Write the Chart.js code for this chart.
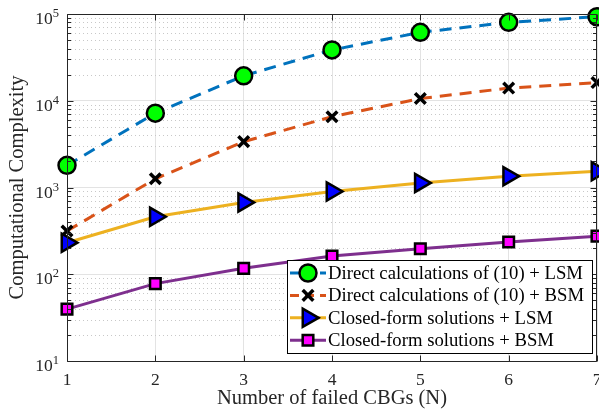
<!DOCTYPE html>
<html>
<head>
<meta charset="utf-8">
<script src="https://cdn.jsdelivr.net/npm/chart.js@4/dist/chart.umd.min.js"></script>
<style>
html,body{margin:0;padding:0;background:#fff;}
#wrap{width:599px;height:412px;position:relative;}
</style>
</head>
<body>
<div id="wrap"><canvas id="c" width="599" height="412"></canvas></div>
<script>
const categories = [1, 2, 3, 4, 5, 6, 7];
const directLSM = [1800, 7200, 19400, 38500, 61500, 80200, 93000];
const directBSM = [315, 1260, 3380, 6550, 10600, 14000, 16200];
const closedLSM = [231, 460, 673, 900, 1130, 1350, 1540];
const closedBSM = [39.6, 78, 117, 162, 197, 235, 275];
const seriesNames = [
  'Direct calculations of (10) + LSM',
  'Direct calculations of (10) + BSM',
  'Closed-form solutions + LSM',
  'Closed-form solutions + BSM'
];
const yExponents = [1, 2, 3, 4, 5];
const xTickLabels = ['1', '2', '3', '4', '5', '6', '7'];

const FONT = '"Liberation Serif", "Times New Roman", serif';
const AX = '#262626';

function pts(arr) { return categories.map((c, i) => ({x: c, y: arr[i]})); }

const datasets = [
  {label: seriesNames[0], data: pts(directLSM), borderColor: '#0072BD', borderDash: [12, 8], borderWidth: 3,
   pointStyle: 'circle', pointRadius: 8.5, pointBackgroundColor: '#00FF00', pointBorderColor: '#000', pointBorderWidth: 2.5, order: 4},
  {label: seriesNames[1], data: pts(directBSM), borderColor: '#D95319', borderDash: [12, 8], borderWidth: 3,
   pointStyle: 'crossRot', pointRadius: 7.5, pointBackgroundColor: '#000', pointBorderColor: '#000', pointBorderWidth: 3.5, order: 3},
  {label: seriesNames[2], data: pts(closedLSM), borderColor: '#EDB120', borderWidth: 3,
   pointStyle: 'triangle', pointRotation: 90, pointRadius: 10.5, pointBackgroundColor: '#0000FF', pointBorderColor: '#000', pointBorderWidth: 2.5, order: 2},
  {label: seriesNames[3], data: pts(closedBSM), borderColor: '#7E2F8E', borderWidth: 3,
   pointStyle: 'rect', pointRadius: 7.5, pointBackgroundColor: '#FF00FF', pointBorderColor: '#000', pointBorderWidth: 2.5, order: 1}
];
datasets.forEach(d => { d.fill = false; d.tension = 0; d.clip = false; d.pointHoverRadius = d.pointRadius; });

const decorPlugin = {
  id: 'decor',
  beforeDatasetsDraw(chart) {
    const {ctx, chartArea: a, scales: {x, y}} = chart;
    ctx.save();
    ctx.strokeStyle = '#c8c8c8';
    ctx.lineWidth = 1;
    ctx.setLineDash([1, 3]);
    for (let e = yExponents[0]; e < yExponents[yExponents.length - 1]; e++) {
      for (let m = 2; m <= 9; m++) {
        const py = Math.round(y.getPixelForValue(m * Math.pow(10, e))) + 0.5;
        ctx.beginPath(); ctx.moveTo(a.left, py); ctx.lineTo(a.right, py); ctx.stroke();
      }
    }
    ctx.restore();
  },
  afterDraw(chart) {
    const {ctx, chartArea: a, scales: {x, y}} = chart;
    ctx.save();
    ctx.strokeStyle = AX;
    ctx.lineWidth = 1;
    ctx.setLineDash([]);
    const L = Math.round(a.left) + 0.5, R = Math.round(a.right) - 0.5;
    const T = Math.round(a.top) + 0.5, B = Math.round(a.bottom) + 0.5;
    ctx.beginPath();
    ctx.moveTo(L, T); ctx.lineTo(R, T); ctx.lineTo(R, B); ctx.lineTo(L, B); ctx.closePath();
    for (let e = yExponents[0]; e <= yExponents[yExponents.length - 1]; e++) {
      for (let m = 1; m <= 9; m++) {
        if (e === yExponents[yExponents.length - 1] && m > 1) break;
        const py = Math.round(y.getPixelForValue(m * Math.pow(10, e))) + 0.5;
        const len = m === 1 ? 6 : 3.5;
        ctx.moveTo(L, py); ctx.lineTo(L + len, py);
        ctx.moveTo(R, py); ctx.lineTo(R - len, py);
      }
    }
    categories.forEach(c => {
      const px = Math.round(x.getPixelForValue(c)) + 0.5;
      ctx.moveTo(px, B); ctx.lineTo(px, B - 6);
      ctx.moveTo(px, T); ctx.lineTo(px, T + 6);
    });
    ctx.stroke();
    // y tick labels with superscript
    ctx.fillStyle = AX;
    yExponents.forEach(e => {
      const py = y.getPixelForValue(Math.pow(10, e));
      ctx.font = '12.5px ' + FONT;
      const ew = ctx.measureText(String(e)).width;
      ctx.textAlign = 'right';
      ctx.textBaseline = 'alphabetic';
      ctx.fillText(String(e), a.left - 8, py + 3);
      ctx.font = '17.5px ' + FONT;
      ctx.fillText('10', a.left - 8 - ew, py + 10);
    });
    // legend
    const lx = 287, ly = 260, lw = 305, lh = 93;
    ctx.fillStyle = '#fff';
    ctx.fillRect(lx, ly, lw, lh);
    ctx.strokeStyle = '#000';
    ctx.lineWidth = 1;
    ctx.strokeRect(lx + 0.5, ly + 0.5, lw, lh);
    chart.data.datasets.forEach((d, i) => {
      const ry = 273 + i * 22.4;
      ctx.save();
      ctx.strokeStyle = d.borderColor;
      ctx.lineWidth = d.borderWidth;
      ctx.setLineDash(d.borderDash ? [9, 6] : []);
      ctx.beginPath(); ctx.moveTo(lx + 3, ry); ctx.lineTo(lx + 39, ry); ctx.stroke();
      ctx.restore();
      ctx.save();
      ctx.fillStyle = d.pointBackgroundColor; ctx.strokeStyle = d.pointBorderColor; ctx.lineWidth = d.pointBorderWidth;
      Chart.helpers.drawPoint(ctx, {pointStyle: d.pointStyle, radius: d.pointRadius, rotation: d.pointRotation || 0, borderWidth: d.pointBorderWidth}, lx + 21, ry);
      ctx.restore();
      ctx.fillStyle = '#000';
      ctx.font = '18.7px ' + FONT;
      ctx.textAlign = 'left';
      ctx.textBaseline = 'middle';
      ctx.fillText(d.label, lx + 41, ry + 1);
    });
    ctx.restore();
  }
};

new Chart(document.getElementById('c'), {
  type: 'line',
  data: {datasets},
  options: {
    responsive: false,
    animation: false,
    devicePixelRatio: 1,
    layout: {autoPadding: false, padding: {left: 0, right: 2, top: 14, bottom: 0}},
    plugins: {legend: {display: false}, tooltip: {enabled: false}},
    scales: {
      x: {
        type: 'linear', min: 1, max: 7,
        afterBuildTicks: s => { s.ticks = categories.map(v => ({value: v})); },
        afterFit: s => { s.height = 51; s.paddingLeft = 0; s.paddingRight = 0; },
        grid: {color: '#e3e3e3', lineWidth: 1, drawTicks: false},
        border: {display: false},
        ticks: {font: {family: FONT, size: 17.5}, color: AX, padding: 9, maxRotation: 0,
                callback: (v, i) => xTickLabels[i]},
        title: {display: true, text: 'Number of failed CBGs (N)', font: {family: FONT, size: 20.5}, color: AX, padding: {top: 0, bottom: 1}}
      },
      y: {
        type: 'logarithmic', min: 10, max: 100000,
        afterBuildTicks: s => { s.ticks = yExponents.map(e => ({value: Math.pow(10, e), major: true})); },
        afterFit: s => { s.width = 67; s.paddingTop = 0; s.paddingBottom = 0; },
        grid: {color: '#e3e3e3', lineWidth: 1, drawTicks: false},
        border: {display: false},
        ticks: {display: false},
        title: {display: true, text: 'Computational Complexity', font: {family: FONT, size: 20.5}, color: AX, padding: {top: 5, bottom: 0}}
      }
    }
  },
  plugins: [decorPlugin]
});
</script>
</body>
</html>
